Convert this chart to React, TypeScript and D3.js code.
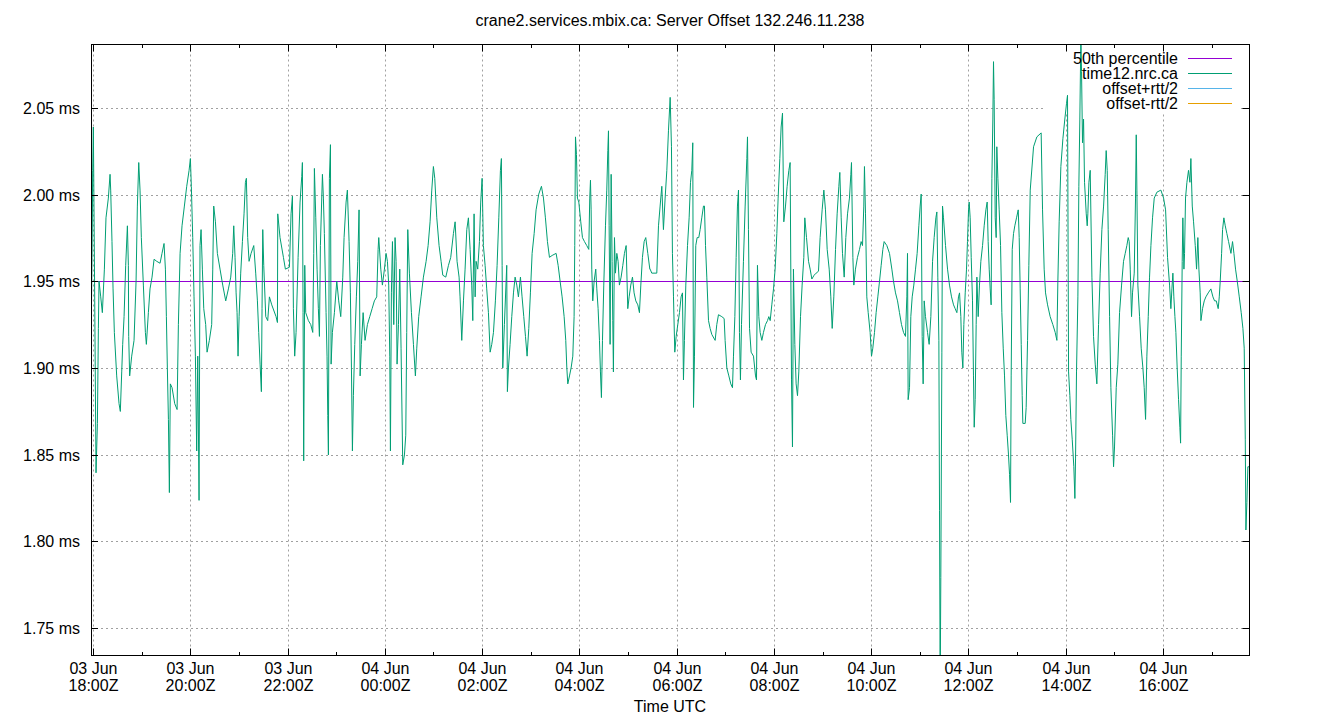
import React from "react";
import * as d3 from "d3";

// ---------- text ----------
const chartTitle = "crane2.services.mbix.ca: Server Offset 132.246.11.238";
const xAxisTitle = "Time UTC";

// ---------- axes ----------
const startUtc = Date.UTC(2024, 5, 3, 18, 0); // 03 Jun 18:00Z
const xDomainMinutes = [-2.5, 1426.1];
const yDomainMs = [1.7341, 2.0866];
const yTickValues = [1.75, 1.8, 1.85, 1.9, 1.95, 2.0, 2.05];
const majorTickHours = 2;

// ---------- series ----------
const percentile50 = 1.9502;
const legendLabels = ["50th percentile", "time12.nrc.ca", "offset+rtt/2", "offset-rtt/2"];
const legendColors = ["#9400d3", "#009e73", "#56b4e9", "#e69f00"];

// [minutes after 03 Jun 18:00Z, offset in ms]
const offsetEvening: [number, number][] = [
  [-2.5, 1.9136], [-1.2, 1.9638], [-0.4, 2.014], [0.4, 2.039], [2.1, 1.9387], [3.7, 1.8395], [5.4, 1.868], [6.6, 1.9228], [7.4, 1.9501], [9.5, 1.941],
  [11.5, 1.9319], [14.0, 1.957], [16.0, 1.9866], [18.9, 1.998], [21.0, 2.0117], [21.8, 2.0026], [23.4, 1.9729], [24.7, 1.9456], [26.3, 1.9205], [29.2, 1.8954],
  [32.1, 1.8794], [33.7, 1.8749], [35.4, 1.8977], [36.6, 1.9136], [38.3, 1.9296], [40.3, 1.9592], [42.4, 1.982], [43.6, 1.9592], [44.0, 1.9182], [45.2, 1.8954],
  [47.7, 1.9068], [50.6, 1.9159], [53.1, 1.9501], [54.7, 1.9934], [56.4, 2.0185], [58.0, 2.0026], [59.6, 1.9752], [62.1, 1.9478], [64.6, 1.9205], [65.8, 1.9136],
  [68.3, 1.9319], [70.3, 1.9456], [72.8, 1.9524], [75.3, 1.9627], [78.6, 1.9615], [82.7, 1.9604], [85.1, 1.9661], [87.6, 1.9718], [89.3, 1.957], [90.5, 1.9296],
  [91.7, 1.9], [93.0, 1.8703], [94.2, 1.8281], [95.4, 1.8908], [97.5, 1.8886], [100.8, 1.8794], [103.7, 1.876], [105.3, 1.925], [107.4, 1.9661], [109.8, 1.982],
  [112.7, 1.9934], [115.6, 2.0048], [118.5, 2.014], [120.1, 2.0208], [121.3, 2.0048], [123.0, 1.9752], [124.6, 1.941], [126.3, 1.9068], [127.9, 1.8521], [129.2, 1.9068],
  [130.8, 1.8236], [132.0, 1.9706], [133.3, 1.9798], [134.9, 1.957], [136.6, 1.9342], [139.0, 1.925], [140.7, 1.9091], [143.5, 1.9159], [146.4, 1.925], [147.7, 1.957],
  [148.9, 1.9934], [151.0, 1.9843], [153.4, 1.9661], [156.7, 1.957], [160.0, 1.9478], [163.7, 1.9387], [167.0, 1.9456], [169.9, 1.9524], [172.3, 1.9661], [173.6, 1.982],
  [175.2, 1.9638], [176.5, 1.9433], [177.7, 1.9319], [178.9, 1.9068], [180.2, 1.9296], [182.2, 1.9547], [184.3, 1.9729], [186.3, 1.9889], [188.0, 2.0071], [189.2, 2.0094],
  [190.8, 1.9752], [192.5, 1.9615], [195.0, 1.9661], [198.3, 1.9706], [200.7, 1.9547], [202.8, 1.9387], [204.4, 1.9205], [206.1, 1.9022], [207.7, 1.8863], [208.5, 1.9342],
  [209.4, 1.9798], [210.6, 1.9592], [213.1, 1.9296], [215.5, 1.9273], [217.6, 1.941], [220.5, 1.9364], [225.8, 1.9296], [227.5, 1.9262],
];

const offsetNight: [number, number][] = [
  [227.9, 1.9889], [230.7, 1.9752], [234.9, 1.9638], [237.3, 1.957], [242.3, 1.9581], [244.3, 1.9889], [246.0, 1.9991], [247.2, 1.9342], [248.8, 1.9068], [250.5, 1.9205],
  [253.0, 1.9638], [255.4, 1.9957], [257.5, 2.0105], [258.3, 2.0185], [259.1, 1.9319], [259.9, 1.8464], [261.2, 1.9592], [262.4, 1.9319], [265.7, 1.9273], [268.6, 1.925],
  [271.1, 1.9205], [272.3, 1.9661], [273.1, 2.0151], [274.8, 1.9866], [276.4, 1.957], [278.0, 1.9342], [279.3, 1.9182], [280.5, 1.9706], [283.0, 2.0117], [284.2, 1.998],
  [285.4, 1.9775], [287.5, 1.9319], [288.7, 1.9068], [289.6, 1.8726], [290.4, 1.8498], [291.6, 2.0094], [292.9, 2.0288], [293.7, 1.9022], [295.3, 1.9205], [297.8, 1.9319],
  [300.7, 1.9501], [303.1, 1.9387], [305.6, 1.9296], [308.1, 1.9524], [309.7, 1.9752], [312.2, 1.9957], [313.8, 2.0026], [315.9, 1.9729], [317.5, 1.9433], [318.8, 1.9],
  [320.0, 1.8521], [321.2, 1.884], [322.9, 1.9136], [324.9, 1.941], [326.6, 1.9615], [328.2, 1.9912], [329.5, 1.8954], [331.1, 1.9136], [333.2, 1.9319], [335.6, 1.9159],
  [338.5, 1.925], [341.4, 1.9296], [344.3, 1.9342], [347.1, 1.9387], [350.0, 1.941], [351.7, 1.9684], [352.5, 1.9752], [355.0, 1.957], [357.0, 1.9478], [359.5, 1.957],
  [361.5, 1.9661], [363.2, 1.9615], [364.8, 1.9478], [366.1, 1.9068], [366.9, 1.8521], [368.1, 1.9433], [369.4, 1.9729], [371.0, 1.925], [372.6, 1.9752], [373.9, 1.9615],
  [375.1, 1.9022], [376.8, 1.925], [378.4, 1.957], [380.0, 1.9114], [382.1, 1.8441], [384.2, 1.8498], [385.8, 1.8612], [387.0, 1.9205], [388.3, 1.9798], [390.3, 1.9547],
  [392.8, 1.9319], [395.3, 1.9136], [397.7, 1.8954], [399.4, 1.9114], [401.8, 1.9296], [404.7, 1.941], [407.6, 1.9524], [410.9, 1.9615], [413.4, 1.9706], [415.8, 1.9843],
  [417.9, 2.0026], [419.9, 2.0162], [421.6, 2.0094], [424.1, 1.9866], [426.9, 1.9706], [429.4, 1.9615], [431.5, 1.9535], [435.2, 1.9524], [438.5, 1.9592], [441.3, 1.9638],
  [444.6, 1.9775], [446.7, 1.9843], [449.1, 1.9615], [451.6, 1.9524],
];

const offsetEarlyMorning: [number, number][] = [
  [452.8, 1.941], [454.9, 1.9159], [457.0, 1.9387], [459.0, 1.957], [461.1, 1.9798], [463.1, 1.9866], [465.2, 1.9684], [467.2, 1.9478], [468.5, 1.9273], [470.1, 1.9889],
  [471.4, 1.941], [472.6, 1.9615], [474.6, 1.957], [476.7, 1.9729], [478.3, 1.9957], [480.0, 2.0094], [481.6, 1.9706], [483.7, 1.9592], [485.7, 1.9456], [487.8, 1.9319],
  [489.9, 1.9091], [491.9, 1.9136], [494.0, 1.9205], [496.4, 1.9387], [498.5, 1.9592], [500.6, 1.9866], [502.6, 2.014], [503.8, 2.0208], [504.7, 1.9592], [505.5, 1.9],
  [507.5, 1.925], [510.4, 1.9592], [511.2, 1.8863], [512.5, 1.9], [514.5, 1.9136], [516.6, 1.9296], [518.7, 1.9433], [520.7, 1.9524], [522.8, 1.9478], [524.8, 1.941],
  [527.3, 1.9524], [529.3, 1.941], [531.4, 1.9296], [533.5, 1.9182], [535.5, 1.9068], [537.6, 1.9228], [539.6, 1.9433], [541.7, 1.9661], [544.2, 1.9775], [546.6, 1.9912],
  [549.9, 2.0003], [553.2, 2.0048], [555.7, 1.998], [558.1, 1.9866], [560.6, 1.9729], [563.1, 1.9638], [566.4, 1.9649], [571.3, 1.9661], [573.8, 1.9592], [576.2, 1.9501],
  [578.7, 1.941], [581.2, 1.9296], [583.2, 1.9159], [584.5, 1.9], [585.7, 1.8908], [587.8, 1.8954], [589.8, 1.9], [591.9, 1.9068], [593.5, 1.9296], [594.3, 1.9706],
  [595.2, 2.0333], [596.4, 2.0231], [597.6, 1.998], [599.3, 1.9957], [601.7, 1.9843], [603.8, 1.9752], [606.3, 1.9729], [609.1, 1.9706], [611.6, 1.9684], [612.8, 1.998],
  [613.7, 2.0083], [614.5, 1.9912], [615.3, 1.957], [616.5, 1.9387], [618.2, 1.9501], [620.2, 1.957], [621.5, 1.9456], [623.1, 1.9342], [624.8, 1.9159], [626.0, 1.8977],
  [627.2, 1.8829], [628.5, 1.9159], [630.1, 1.9478], [632.2, 1.982], [633.8, 2.0026], [635.1, 2.0254], [635.9, 2.0368], [636.7, 1.982], [637.9, 1.9136], [639.2, 2.0117],
  [640.4, 1.9615], [641.2, 1.9273], [642.0, 1.8977], [643.3, 1.9752], [644.5, 1.9547], [646.2, 1.9661], [647.8, 1.9615], [649.4, 1.9478], [651.5, 1.9524], [653.6, 1.9592],
  [655.6, 1.9661], [657.7, 1.9706], [659.7, 1.9342], [661.4, 1.941], [663.4, 1.9478], [665.5, 1.9524], [667.5, 1.9433], [669.6, 1.9387], [672.1, 1.9364], [674.1, 1.9319],
  [675.8, 1.9478], [677.8, 1.9638], [679.9, 1.9729], [681.9, 1.9752], [684.4, 1.9661], [686.9, 1.957],
];

const offsetMorning: [number, number][] = [
  [687.3, 1.957], [689.3, 1.9547], [695.5, 1.9547], [697.6, 1.982], [699.6, 1.9934], [701.7, 2.0048], [703.7, 1.9798], [705.8, 1.998], [707.9, 2.014], [709.9, 2.0368],
  [712.0, 2.0561], [713.6, 2.0276], [714.8, 1.9661], [716.1, 1.941], [717.7, 1.9091], [719.4, 1.9182], [721.4, 1.925], [723.5, 1.9319], [725.5, 1.941], [727.2, 1.9433],
  [728.4, 1.8931], [729.6, 1.9159], [731.3, 1.9478], [733.4, 1.9706], [735.4, 1.9866], [737.1, 2.0071], [738.7, 2.014], [739.9, 2.0299], [740.8, 1.8772], [742.0, 1.9068],
  [743.6, 1.9706], [745.3, 1.9752], [747.3, 1.9752], [749.0, 1.9798], [751.0, 1.9866], [753.1, 1.9934], [754.3, 1.9934], [755.6, 1.9706], [757.2, 1.9524], [759.3, 1.9273],
  [761.3, 1.9228], [763.4, 1.9193], [767.5, 1.9159], [769.5, 1.925], [771.6, 1.9307], [775.7, 1.9296], [778.6, 1.9285], [779.8, 1.9159], [781.9, 1.9], [784.4, 1.8954],
  [786.8, 1.8908], [788.9, 1.8886], [790.1, 1.9068], [791.8, 1.9296], [793.4, 1.9638], [795.0, 1.9934], [796.3, 2.0026], [797.5, 1.9205], [798.7, 1.8931], [800.0, 1.925],
  [802.4, 1.9615], [804.5, 1.9934], [806.6, 2.0208], [807.4, 2.0333], [808.6, 1.9798], [809.9, 1.9228], [811.9, 1.9091], [814.8, 1.9068], [817.3, 1.8954], [818.5, 1.8931],
  [819.7, 1.9592], [821.4, 1.9296], [823.0, 1.9205], [825.1, 1.9159], [827.1, 1.9205], [829.6, 1.925], [832.1, 1.9273], [833.7, 1.9296], [835.4, 1.9273], [837.4, 1.9364],
  [839.5, 1.9456], [841.5, 1.957], [843.6, 1.9775], [845.2, 1.998], [847.3, 2.0208], [848.9, 2.039], [850.6, 2.047], [852.2, 1.9843], [854.3, 1.9934], [856.3, 2.0048],
  [858.4, 2.014], [860.0, 2.0185], [861.7, 1.8931], [862.9, 1.8544], [864.1, 1.957], [865.8, 1.9136], [867.4, 1.8908], [869.1, 1.884], [870.7, 1.8977], [872.8, 1.9296],
  [874.8, 1.9478], [876.9, 1.9638], [878.1, 1.9866], [880.2, 1.9752], [882.7, 1.9615], [884.7, 1.957], [886.8, 1.9513], [889.6, 1.9535], [892.1, 1.9547], [895.0, 1.9558],
  [897.0, 1.9752], [899.5, 1.9912], [901.6, 2.0026], [903.6, 1.9912], [905.7, 1.9684], [908.2, 1.957], [910.2, 1.941], [911.9, 1.9228], [913.9, 1.941], [916.0, 1.9684],
  [918.0, 1.9889], [920.1, 2.0048], [921.3, 2.0128],
];

const offsetMidday: [number, number][] = [
  [923.0, 1.9866], [924.6, 1.9661], [926.7, 1.9524], [928.7, 1.9752], [930.8, 1.9889], [933.2, 1.998], [934.9, 2.0117], [935.7, 2.0185], [937.4, 1.9638], [938.6, 1.9478],
  [940.6, 1.957], [943.1, 1.9638], [945.6, 1.9684], [947.6, 1.9729], [949.3, 1.9706], [950.9, 1.9934], [951.7, 2.0162], [953.0, 1.9889], [954.6, 1.941], [956.3, 1.9319],
  [958.7, 1.9205], [960.4, 1.9068], [962.0, 1.9114], [964.1, 1.9205], [966.1, 1.9319], [968.2, 1.941], [970.3, 1.9501], [972.3, 1.9592], [974.4, 1.9684], [976.0, 1.9729],
  [979.3, 1.9706], [982.6, 1.9661], [985.5, 1.957], [987.5, 1.9501], [990.0, 1.9433], [992.5, 1.9387], [994.9, 1.9319], [997.4, 1.925], [999.9, 1.9205], [1002.3, 1.9182],
  [1004.0, 1.941], [1004.8, 1.9661], [1005.6, 1.8817], [1007.3, 1.8886], [1008.9, 1.9296], [1010.6, 1.941], [1012.6, 1.9478], [1014.7, 1.957], [1016.7, 1.9661], [1018.8, 1.982],
  [1020.4, 1.9934], [1021.7, 2.0003], [1022.9, 1.9182], [1024.1, 1.8908], [1025.4, 1.9387], [1027.0, 1.9296], [1029.5, 1.9205], [1031.5, 1.9136], [1033.6, 1.9296], [1035.7, 1.9615],
  [1037.7, 1.9752], [1039.8, 1.9866], [1041.0, 1.99], [1042.2, 1.9524], [1043.5, 1.9159], [1044.3, 1.8179], [1045.1, 1.713], [1045.9, 1.7791], [1047.2, 1.9091], [1048.0, 1.9934],
  [1049.2, 1.9866], [1051.7, 1.9706], [1054.2, 1.957], [1056.6, 1.9478], [1059.1, 1.941], [1061.6, 1.9364], [1063.6, 1.9342], [1065.7, 1.9319], [1067.7, 1.941], [1069.0, 1.9433],
  [1070.6, 1.9296], [1071.8, 1.9091], [1073.1, 1.9], [1074.3, 1.925], [1076.0, 1.9433], [1077.6, 1.957], [1078.8, 1.9729], [1080.1, 1.9912], [1080.9, 1.9957], [1082.1, 1.9866],
  [1083.4, 1.9638], [1085.0, 1.9387], [1086.2, 1.8954], [1087.1, 1.8658], [1088.3, 1.8817], [1089.5, 1.925], [1090.4, 1.9524], [1092.0, 1.9296], [1093.6, 1.9478], [1095.3, 1.9615],
  [1097.4, 1.9706], [1099.4, 1.982], [1101.5, 1.9912], [1103.1, 1.9957], [1104.3, 1.9729], [1105.6, 1.957], [1106.8, 1.9456], [1108.0, 1.9364], [1108.9, 2.0094], [1110.1, 2.0436],
  [1110.9, 2.0767], [1111.7, 2.055], [1113.0, 1.9866], [1114.2, 1.9752], [1115.0, 2.0276], [1116.3, 2.0094], [1117.9, 1.9912], [1119.6, 1.9706], [1121.2, 1.9319], [1122.9, 1.9114],
  [1124.5, 1.8954], [1126.1, 1.8726], [1127.8, 1.8612], [1129.4, 1.8498], [1130.7, 1.8384], [1131.9, 1.8224], [1132.7, 1.8954], [1134.0, 1.9684], [1135.6, 1.9775], [1137.2, 1.982],
  [1139.3, 1.9866], [1141.4, 1.9912], [1142.6, 1.9752], [1143.8, 1.9456], [1145.1, 1.9136], [1146.3, 1.884], [1147.1, 1.868], [1150.0, 1.868], [1151.2, 1.8772], [1152.9, 1.9159],
  [1154.5, 1.9592],
];

const offsetAfternoon: [number, number][] = [
  [1156.2, 2.0026], [1160.3, 2.0276], [1164.4, 2.0333], [1169.7, 2.0356], [1171.4, 1.9912], [1173.4, 1.957], [1175.1, 1.9433], [1177.6, 1.9364], [1180.8, 1.9296], [1184.1, 1.925],
  [1187.0, 1.9205], [1189.1, 1.9159], [1190.3, 1.9501], [1191.9, 1.9843], [1194.0, 2.0162], [1196.5, 2.0322], [1198.9, 2.0436], [1201.0, 2.0527], [1202.2, 2.0573], [1203.5, 1.8977],
  [1205.1, 1.884], [1206.3, 1.8703], [1208.0, 1.8589], [1210.0, 1.843], [1211.3, 1.8247], [1212.1, 1.8475], [1213.3, 1.8977], [1215.0, 1.941], [1216.2, 2.0048], [1217.4, 2.0436],
  [1218.7, 2.092], [1219.5, 2.071], [1220.7, 2.0299], [1222.0, 2.0436], [1223.2, 2.0071], [1225.3, 1.9889], [1226.5, 1.982], [1227.3, 1.9889], [1228.6, 2.0071], [1230.2, 2.014],
  [1232.3, 1.9524], [1234.3, 1.9182], [1236.4, 1.9022], [1238.4, 1.8908], [1240.5, 1.925], [1242.5, 1.9547], [1244.6, 1.9798], [1246.7, 1.9934], [1248.7, 2.0117], [1249.9, 2.0254],
  [1251.2, 2.014], [1252.4, 1.9798], [1254.1, 1.9296], [1255.7, 1.8886], [1257.8, 1.8612], [1259.0, 1.843], [1260.2, 1.8544], [1262.3, 1.8886], [1264.3, 1.9022], [1266.4, 1.9319],
  [1268.9, 1.9478], [1271.3, 1.9615], [1273.4, 1.9661], [1275.4, 1.9706], [1277.1, 1.9752], [1278.3, 1.9729], [1279.6, 1.957], [1281.2, 1.9296], [1282.4, 1.9433], [1284.5, 1.9547],
  [1286.1, 1.998], [1287.0, 2.0345], [1287.8, 2.0026], [1289.0, 1.9478], [1291.1, 1.9296], [1293.1, 1.9114], [1295.2, 1.9], [1296.8, 1.8886], [1298.5, 1.8703], [1300.1, 1.9068],
  [1301.8, 1.9296], [1303.4, 1.9524], [1305.1, 1.9706], [1307.1, 1.9866], [1309.2, 1.998], [1312.5, 2.0014], [1317.4, 2.0026], [1320.7, 1.998], [1323.2, 1.9912], [1325.6, 1.9638],
  [1328.1, 1.9478], [1329.7, 1.9342], [1331.0, 1.9456], [1332.2, 1.9547], [1333.4, 1.941], [1334.7, 1.9296], [1335.9, 1.9205], [1337.5, 1.9], [1339.2, 1.8817], [1340.8, 1.8658],
  [1341.7, 1.8566], [1342.5, 1.9068], [1343.7, 1.9615], [1344.5, 1.9866], [1345.8, 1.957], [1346.6, 1.9661], [1347.8, 1.998], [1349.5, 2.0071], [1351.5, 2.014], [1353.2, 2.0071],
  [1354.4, 2.0208], [1356.1, 1.9934], [1357.7, 1.9843], [1359.8, 1.9706], [1361.4, 1.957], [1363.0, 1.9752], [1364.3, 1.957], [1365.9, 1.9433], [1366.8, 1.9273], [1368.8, 1.9342],
  [1370.9, 1.9387], [1372.9, 1.941], [1375.8, 1.9433], [1379.1, 1.9456], [1381.6, 1.941], [1383.6, 1.9387], [1385.7, 1.9387], [1388.1, 1.9342], [1389.4, 1.941], [1390.6, 1.9501],
  [1392.3, 1.9661], [1393.5, 1.9798], [1395.1, 1.9866], [1396.8, 1.982], [1398.8, 1.9775], [1400.9, 1.9729], [1403.8, 1.9661], [1405.8, 1.9729], [1407.5, 1.9661], [1409.5, 1.957],
  [1411.6, 1.9501], [1414.1, 1.941], [1416.5, 1.9319], [1418.6, 1.9228], [1420.2, 1.9114], [1421.5, 1.8589], [1422.3, 1.8065], [1423.5, 1.8224], [1424.7, 1.843], [1426.0, 1.843],
];

// ---------- layout ----------
const W = 1340;
const H = 720;
const plotLeft = 91;
const plotRight = 1249;
const plotTop = 44.5;
const plotBottom = 655.5;
const FONT = "'Liberation Sans', Arial, sans-serif";
const FS = 16;

const allOffsets = [
  ...offsetEvening,
  ...offsetNight,
  ...offsetEarlyMorning,
  ...offsetMorning,
  ...offsetMidday,
  ...offsetAfternoon,
];

const toDate = (m: number) => new Date(startUtc + m * 60000);

export default function App() {
  const x = d3
    .scaleUtc()
    .domain([toDate(xDomainMinutes[0]), toDate(xDomainMinutes[1])])
    .range([plotLeft, plotRight]);
  const y = d3.scaleLinear().domain(yDomainMs).range([plotBottom, plotTop]);

  const hourly = d3.utcHour.every(1)!.range(x.domain()[0], x.domain()[1]);
  const majors = hourly.filter((d) => d.getUTCHours() % majorTickHours === 0);
  const minors = hourly.filter((d) => d.getUTCHours() % majorTickHours !== 0);

  const line = d3
    .line<[number, number]>()
    .x((d) => x(toDate(d[0])))
    .y((d) => y(d[1]));

  const fmtDay = d3.utcFormat("%d %b");
  const fmtTime = d3.utcFormat("%H:%MZ");

  const grid = "#a0a0a0";
  const tickMajor = 7;
  const tickMinor = 3.5;

  const legendRowY = (i: number) => 58 + i * 15;
  const pY = Math.round(y(percentile50)) + 0.5;

  return (
    <svg width={W} height={H} style={{ display: "block", position: "absolute", left: 0, top: 0 }} fontFamily={FONT}>
      <defs>
        <clipPath id="plotClip">
          <rect x={plotLeft} y={plotTop} width={plotRight - plotLeft} height={plotBottom - plotTop} />
        </clipPath>
      </defs>
      <rect x={0} y={0} width={W} height={H} fill="#fff" />

      {/* horizontal grid */}
      {yTickValues.map((v) => (
        <line
          key={"hg" + v}
          x1={plotLeft}
          x2={plotRight}
          y1={Math.round(y(v)) + 0.5}
          y2={Math.round(y(v)) + 0.5}
          stroke={grid}
          strokeWidth={1}
          strokeDasharray="2,3"
        />
      ))}
      {/* vertical grid */}
      {majors.map((d) => (
        <line
          key={"vg" + +d}
          x1={Math.round(x(d)) + 0.5}
          x2={Math.round(x(d)) + 0.5}
          y1={plotTop}
          y2={plotBottom}
          stroke={grid}
          strokeWidth={1}
          strokeDasharray="2,3"
        />
      ))}

      {/* key background */}
      <rect x={1045} y={plotTop + 0.5} width={196} height={68} fill="#fff" />

      {/* percentile + offsets */}
      <g clipPath="url(#plotClip)">
        <line x1={plotLeft} x2={plotRight} y1={pY} y2={pY} stroke={legendColors[0]} strokeWidth={1} />
        <path d={line(allOffsets) || ""} fill="none" stroke={legendColors[1]} strokeWidth={1} strokeLinejoin="miter" />
      </g>

      {/* border */}
      <rect
        x={plotLeft + 0.5}
        y={plotTop}
        width={plotRight - plotLeft}
        height={plotBottom - plotTop}
        fill="none"
        stroke="#000"
        strokeWidth={1}
      />

      {/* y ticks */}
      {yTickValues.map((v) => {
        const yy = Math.round(y(v)) + 0.5;
        return (
          <g key={"yt" + v}>
            <line x1={plotLeft} x2={plotLeft + tickMajor} y1={yy} y2={yy} stroke="#000" />
            <line x1={plotRight + 0.5} x2={plotRight + 0.5 - tickMajor} y1={yy} y2={yy} stroke="#000" />
            <text x={80} y={yy + 5.5} textAnchor="end" fontSize={FS} fill="#000">
              {d3.format(".2f")(v) + " ms"}
            </text>
          </g>
        );
      })}

      {/* x ticks */}
      {majors.map((d) => {
        const xx = Math.round(x(d)) + 0.5;
        return (
          <g key={"xt" + +d}>
            <line x1={xx} x2={xx} y1={plotBottom} y2={plotBottom - tickMajor} stroke="#000" />
            <line x1={xx} x2={xx} y1={plotTop} y2={plotTop + tickMajor} stroke="#000" />
            <text x={xx} y={673.5} textAnchor="middle" fontSize={FS} fill="#000">
              {fmtDay(d)}
            </text>
            <text x={xx} y={690.5} textAnchor="middle" fontSize={FS} fill="#000">
              {fmtTime(d)}
            </text>
          </g>
        );
      })}
      {minors.map((d) => {
        const xx = Math.round(x(d)) + 0.5;
        return (
          <g key={"xm" + +d}>
            <line x1={xx} x2={xx} y1={plotBottom} y2={plotBottom - tickMinor} stroke="#000" />
            <line x1={xx} x2={xx} y1={plotTop} y2={plotTop + tickMinor} stroke="#000" />
          </g>
        );
      })}

      {/* legend */}
      {legendLabels.map((label, i) => (
        <g key={label}>
          <text x={1178} y={legendRowY(i) + 5.5} textAnchor="end" fontSize={FS} fill="#000">
            {label}
          </text>
          <line x1={1188} x2={1232} y1={legendRowY(i) + 0.5} y2={legendRowY(i) + 0.5} stroke={legendColors[i]} strokeWidth={1} />
        </g>
      ))}

      {/* titles */}
      <text x={(plotLeft + plotRight) / 2} y={25.5} textAnchor="middle" fontSize={FS} fill="#000">
        {chartTitle}
      </text>
      <text x={(plotLeft + plotRight) / 2} y={711.5} textAnchor="middle" fontSize={FS} fill="#000">
        {xAxisTitle}
      </text>
    </svg>
  );
}
